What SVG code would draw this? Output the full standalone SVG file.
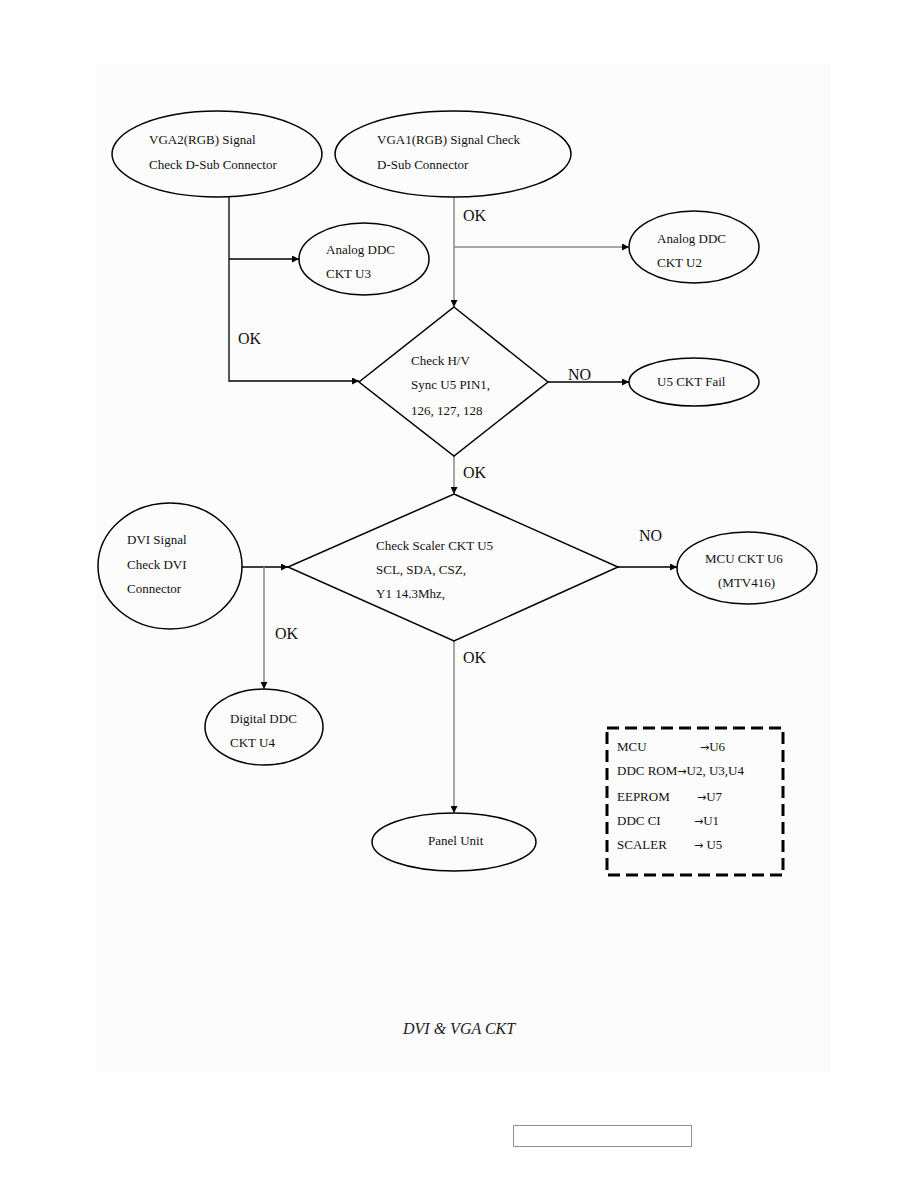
<svg xmlns="http://www.w3.org/2000/svg" width="918" height="1188" viewBox="0 0 918 1188">
<style>
.shape{fill:none;stroke:#000;stroke-width:1.5}
.t{font-family:"Liberation Serif",serif;font-size:13px;fill:#111}
.ar{font-family:"DejaVu Sans",sans-serif;font-size:11px}
.lbl{font-family:"Liberation Serif",serif;font-size:16px;fill:#111}
.blk{stroke:#000;stroke-width:1.3;fill:none}
.gry{stroke:#8a8a8a;stroke-width:1.5;fill:none}
</style>
<defs>
<marker id="ah" viewBox="0 0 10 10" refX="10" refY="5" markerWidth="7" markerHeight="7" markerUnits="userSpaceOnUse" orient="auto">
<path d="M0,0 L10,5 L0,10 Z" fill="#000"/>
</marker>
</defs>
<rect x="0" y="0" width="918" height="1188" fill="#fff"/>
<rect x="96" y="64" width="735" height="1008" fill="#fcfcfc"/>

<g id="connectors">
<polyline class="blk" points="229,197 229,381 359,381" marker-end="url(#ah)"/>
<line class="blk" x1="229" y1="259" x2="299" y2="259" marker-end="url(#ah)"/>
<line class="gry" x1="454" y1="197" x2="454" y2="307" marker-end="url(#ah)"/>
<line class="gry" x1="454" y1="247" x2="629" y2="247" marker-end="url(#ah)"/>
<line class="blk" x1="548" y1="382" x2="629" y2="382" marker-end="url(#ah)"/>
<line class="gry" x1="454" y1="456" x2="454" y2="494" marker-end="url(#ah)"/>
<line class="blk" x1="242" y1="567" x2="288" y2="567" marker-end="url(#ah)"/>
<line class="gry" x1="264" y1="567" x2="264" y2="689" marker-end="url(#ah)"/>
<line class="blk" x1="618" y1="567" x2="677" y2="567" marker-end="url(#ah)"/>
<line class="gry" x1="454" y1="641" x2="454" y2="813" marker-end="url(#ah)"/>
<text class="lbl" x="463" y="221">OK</text>
<text class="lbl" x="238" y="344">OK</text>
<text class="lbl" x="568" y="380">NO</text>
<text class="lbl" x="463" y="478">OK</text>
<text class="lbl" x="639" y="541">NO</text>
<text class="lbl" x="275" y="639">OK</text>
<text class="lbl" x="463" y="663">OK</text>
</g>

<g id="vga2">
<ellipse class="shape" cx="217" cy="154" rx="105" ry="43"/>
<text class="t" x="149" y="144">VGA2(RGB) Signal</text>
<text class="t" x="149" y="169">Check D-Sub Connector</text>
</g>
<g id="vga1">
<ellipse class="shape" cx="453" cy="154" rx="118" ry="43"/>
<text class="t" x="377" y="144">VGA1(RGB) Signal Check</text>
<text class="t" x="377" y="169">D-Sub Connector</text>
</g>
<g id="ddc-u3">
<ellipse class="shape" cx="364" cy="259" rx="65" ry="36"/>
<text class="t" x="326" y="254">Analog DDC</text>
<text class="t" x="326" y="278">CKT U3</text>
</g>
<g id="ddc-u2">
<ellipse class="shape" cx="694" cy="247" rx="65" ry="36"/>
<text class="t" x="657" y="243">Analog DDC</text>
<text class="t" x="657" y="267">CKT U2</text>
</g>
<g id="check-hv">
<polygon class="shape" points="454,307 548,382 454,456 359,382"/>
<text class="t" x="411" y="365">Check H/V</text>
<text class="t" x="411" y="389">Sync U5 PIN1,</text>
<text class="t" x="411" y="415">126, 127, 128</text>
</g>
<g id="u5-fail">
<ellipse class="shape" cx="694" cy="382" rx="65" ry="24"/>
<text class="t" x="657" y="386">U5 CKT Fail</text>
</g>
<g id="check-scaler">
<polygon class="shape" points="454,494 618,567 454,641 288,567"/>
<text class="t" x="376" y="550">Check Scaler CKT U5</text>
<text class="t" x="376" y="574">SCL, SDA, CSZ,</text>
<text class="t" x="376" y="598">Y1 14.3Mhz,</text>
</g>
<g id="dvi">
<ellipse class="shape" cx="170" cy="566" rx="72" ry="63"/>
<text class="t" x="127" y="544">DVI Signal</text>
<text class="t" x="127" y="569">Check DVI</text>
<text class="t" x="127" y="593">Connector</text>
</g>
<g id="mcu-u6">
<ellipse class="shape" cx="747" cy="568" rx="70" ry="36"/>
<text class="t" x="705" y="563">MCU CKT U6</text>
<text class="t" x="718" y="587">(MTV416)</text>
</g>
<g id="digital-ddc">
<ellipse class="shape" cx="264" cy="727" rx="59" ry="38"/>
<text class="t" x="230" y="723">Digital DDC</text>
<text class="t" x="230" y="747">CKT U4</text>
</g>
<g id="panel">
<ellipse class="shape" cx="454" cy="842" rx="82" ry="29"/>
<text class="t" x="428" y="845">Panel Unit</text>
</g>
<g id="legend">
<rect x="607" y="728" width="176" height="147" fill="none" stroke="#000" stroke-width="3" stroke-dasharray="12,6"/>
<text class="t" x="617" y="751">MCU</text>
<text class="t" x="700" y="751"><tspan class="ar">→</tspan>U6</text>
<text class="t" x="617" y="775">DDC ROM<tspan class="ar">→</tspan>U2, U3,U4</text>
<text class="t" x="617" y="801">EEPROM</text>
<text class="t" x="697" y="801"><tspan class="ar">→</tspan>U7</text>
<text class="t" x="617" y="825">DDC CI</text>
<text class="t" x="694" y="825"><tspan class="ar">→</tspan>U1</text>
<text class="t" x="617" y="849">SCALER</text>
<text class="t" x="694" y="849"><tspan class="ar">→</tspan> U5</text>
</g>
<text x="403" y="1034" font-family="Liberation Serif,serif" font-style="italic" font-size="16" fill="#222">DVI &amp; VGA CKT</text>
<rect x="513.5" y="1125.5" width="178" height="21" fill="none" stroke="#222" stroke-width="1" stroke-dasharray="1,1"/>
</svg>
